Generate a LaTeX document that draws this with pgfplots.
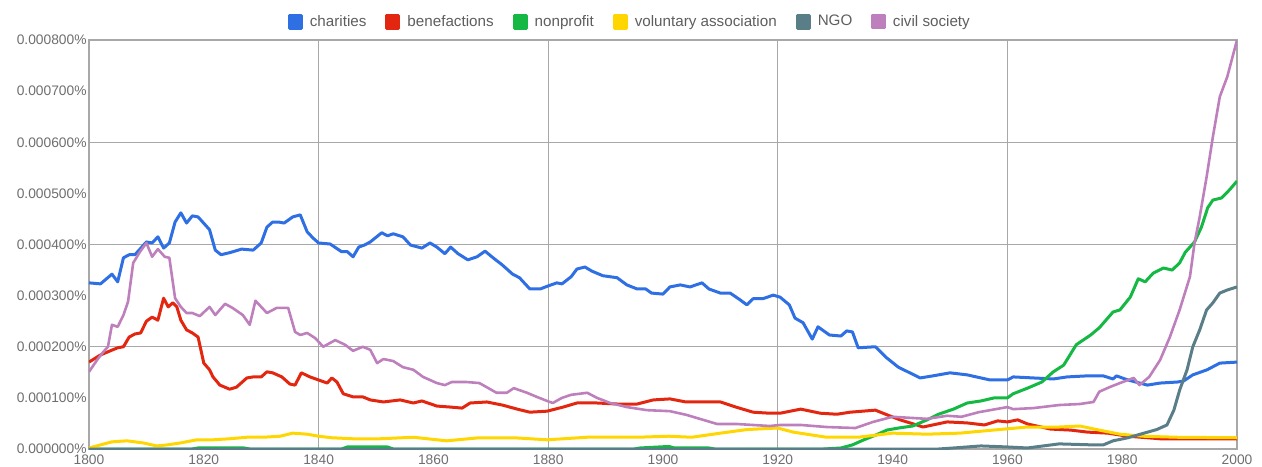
\documentclass[border=0pt]{standalone}
\usepackage{pgfplots}
\pgfplotsset{compat=1.18}
\usepackage{fontspec}
\setmainfont{Liberation Sans}
\definecolor{cchar}{HTML}{2F6FE4}
\definecolor{cbene}{HTML}{E3260F}
\definecolor{cnonp}{HTML}{14B843}
\definecolor{cvol}{HTML}{FFD600}
\definecolor{cngo}{HTML}{5A7E88}
\definecolor{civ}{HTML}{BE80BC}
\definecolor{ctxt}{HTML}{6E6E6E}
\definecolor{cleg}{HTML}{5E5E5E}
\definecolor{cgrid}{HTML}{A8A8A8}
\begin{document}
\begin{tikzpicture}
\begin{axis}[
  at={(0,0)}, anchor=south west,
  scale only axis, width=574pt, height=204.5pt,
  xmin=1800, xmax=2000, ymin=0, ymax=8,
  xtick={1800,1820,...,2000},
  xticklabels={1800,1820,1840,1860,1880,1900,1920,1940,1960,1980,2000},
  ytick={0,1,...,8},
  yticklabels={0.000000\%,0.000100\%,0.000200\%,0.000300\%,0.000400\%,0.000500\%,0.000600\%,0.000700\%,0.000800\%},
  major tick length=0pt,
  extra x ticks={1840,1880,1920,1960},
  extra x tick labels={},
  extra x tick style={grid=major, major tick length=0pt},
  extra y ticks={2,4,6},
  extra y tick labels={},
  extra y tick style={grid=major, major tick length=0pt},
  major grid style={draw=cgrid, line width=0.5pt},
  axis line style={draw=cgrid, line width=0.6pt},
  tick label style={font=\fontsize{6.9}{8}\selectfont, text=ctxt},
  yticklabel style={anchor=east, inner sep=1pt},
  xticklabel style={anchor=north, inner sep=2.5pt},
  legend columns=-1,
  legend style={at={(0.472,1.044)}, anchor=center, draw=none, fill=none,
    font=\fontsize{7.6}{9}\selectfont, text=cleg,
    /tikz/every odd column/.append style={column sep=1.5pt},
    /tikz/every even column/.append style={column sep=7.5pt}},
  legend image code/.code={\fill[#1] (0pt,-3pt) rectangle (6pt,3.5pt);},
  every axis plot/.append style={line width=1.5pt, line join=round},
]
\addplot[color=cchar] coordinates {(1800,3.25)(1802,3.23)(1804,3.42)(1805,3.27)(1806,3.74)(1807,3.80)(1808,3.80)(1810,4.05)(1811,4.03)(1812,4.15)(1813,3.93)(1814,4.03)(1815,4.44)(1816,4.62)(1817,4.42)(1818,4.56)(1819,4.54)(1821,4.29)(1822,3.89)(1823,3.80)(1824.5,3.84)(1826.6,3.91)(1828.6,3.89)(1830,4.03)(1831,4.34)(1832,4.44)(1833,4.44)(1834,4.42)(1835.5,4.54)(1836.8,4.58)(1838,4.25)(1839,4.13)(1840,4.03)(1842,4.01)(1844,3.86)(1845,3.86)(1846,3.76)(1847,3.95)(1848,3.99)(1849,4.05)(1851,4.23)(1852,4.17)(1853,4.21)(1854.7,4.15)(1856,3.99)(1858,3.93)(1859.4,4.03)(1860.6,3.95)(1862,3.82)(1863,3.95)(1864.3,3.82)(1866,3.70)(1867.6,3.76)(1869,3.87)(1870.4,3.74)(1872,3.60)(1873.8,3.42)(1875,3.35)(1876.8,3.13)(1878.6,3.13)(1880,3.19)(1881.5,3.25)(1882.4,3.23)(1884,3.37)(1885,3.52)(1886.4,3.56)(1887.6,3.48)(1889.5,3.39)(1892,3.35)(1893.7,3.21)(1895.5,3.13)(1897,3.13)(1898,3.05)(1900,3.03)(1901.2,3.17)(1903,3.21)(1904.7,3.17)(1906.8,3.25)(1908,3.13)(1910,3.05)(1911.7,3.05)(1913.4,2.92)(1914.6,2.82)(1915.7,2.94)(1917.4,2.94)(1919.2,3.01)(1920.4,2.97)(1922,2.82)(1923,2.56)(1924.4,2.47)(1926,2.15)(1927,2.39)(1929,2.23)(1931,2.21)(1932,2.31)(1933,2.29)(1934,1.98)(1937,2.00)(1939,1.78)(1941,1.60)(1943,1.49)(1944.8,1.39)(1947,1.43)(1950,1.49)(1953,1.45)(1957,1.35)(1960,1.35)(1961,1.41)(1964.5,1.39)(1968,1.37)(1970.4,1.41)(1973.8,1.43)(1976.7,1.43)(1978.4,1.37)(1979,1.43)(1981,1.35)(1984.4,1.25)(1986.6,1.29)(1989.6,1.31)(1990.7,1.33)(1992.3,1.45)(1994.8,1.55)(1997,1.68)(2000,1.70)};
\addlegendentry{charities}
\addplot[color=cbene] coordinates {(1800,1.70)(1802,1.84)(1803.7,1.92)(1805,1.98)(1806,2.00)(1807,2.19)(1808,2.25)(1809,2.27)(1810,2.50)(1811,2.58)(1812,2.52)(1813,2.95)(1813.8,2.78)(1814.6,2.86)(1815.3,2.78)(1816,2.52)(1817,2.33)(1818,2.27)(1819,2.19)(1820,1.68)(1821,1.55)(1821.6,1.41)(1822.8,1.25)(1824.5,1.17)(1825.7,1.21)(1827.5,1.39)(1828.6,1.41)(1830,1.41)(1831,1.51)(1832,1.49)(1833.6,1.41)(1835,1.27)(1835.9,1.25)(1837,1.49)(1838.5,1.41)(1840,1.35)(1841.5,1.29)(1842.3,1.39)(1843.2,1.31)(1844.3,1.08)(1846,1.02)(1847.7,1.02)(1849,0.96)(1851.3,0.92)(1854.2,0.96)(1856.5,0.90)(1858,0.94)(1860.6,0.84)(1863,0.82)(1865,0.80)(1866.4,0.90)(1869.3,0.92)(1872,0.86)(1874.6,0.78)(1876.8,0.72)(1879.8,0.74)(1882.6,0.82)(1885,0.90)(1888.5,0.90)(1892,0.88)(1895.5,0.88)(1898.3,0.96)(1901.2,0.98)(1904,0.92)(1907,0.92)(1910,0.92)(1912.7,0.82)(1915.7,0.72)(1918.6,0.70)(1920.4,0.70)(1924,0.78)(1927.4,0.70)(1930.3,0.68)(1932.6,0.72)(1937,0.76)(1939,0.67)(1941.3,0.57)(1944.2,0.47)(1945.3,0.43)(1949.5,0.53)(1953,0.51)(1956,0.47)(1958.3,0.55)(1960,0.53)(1961.8,0.57)(1963.5,0.49)(1967.5,0.39)(1971,0.37)(1974,0.33)(1977.5,0.31)(1981,0.25)(1984.4,0.22)(1986.6,0.20)(1992.3,0.20)(2000,0.20)};
\addlegendentry{benefactions}
\addplot[color=cnonp] coordinates {(1800,0)(1818,0)(1819,0.02)(1827,0.02)(1828,0)(1844,0)(1845,0.04)(1852,0.04)(1853,0)(1895,0)(1896,0.02)(1901,0.05)(1902,0.02)(1908,0.02)(1909,0)(1928,0)(1931,0.02)(1933,0.08)(1935,0.18)(1937,0.27)(1939,0.37)(1941,0.41)(1943.5,0.45)(1946,0.57)(1948,0.68)(1950.6,0.78)(1953,0.90)(1955.4,0.94)(1957.7,1.00)(1960,1.00)(1961,1.08)(1963.5,1.19)(1966,1.31)(1968,1.51)(1969.8,1.64)(1972,2.04)(1974.5,2.23)(1976,2.37)(1978.4,2.68)(1979.6,2.72)(1981.4,2.97)(1982.8,3.33)(1984,3.27)(1985.4,3.44)(1987.2,3.54)(1988.7,3.50)(1990,3.64)(1991,3.85)(1992.6,4.05)(1993.8,4.34)(1994.9,4.72)(1995.8,4.87)(1997.3,4.91)(1998.7,5.07)(2000,5.24)};
\addlegendentry{nonprofit}
\addplot[color=cvol] coordinates {(1800,0.02)(1802,0.08)(1804,0.14)(1806.6,0.16)(1809.4,0.12)(1811.8,0.06)(1813.6,0.08)(1816,0.12)(1818.8,0.18)(1821.6,0.18)(1824.5,0.20)(1827.5,0.23)(1830.3,0.23)(1833.3,0.25)(1835.5,0.31)(1838,0.29)(1840,0.25)(1842.3,0.22)(1846,0.20)(1850.7,0.20)(1856.5,0.23)(1862.3,0.16)(1868,0.22)(1874,0.22)(1879.8,0.18)(1886.8,0.23)(1895.5,0.23)(1901,0.25)(1905,0.23)(1910,0.31)(1914.6,0.38)(1918,0.40)(1920,0.41)(1922.7,0.33)(1928.5,0.23)(1934,0.23)(1940,0.31)(1946,0.29)(1951.7,0.31)(1957.5,0.37)(1963.5,0.43)(1969,0.43)(1972.6,0.45)(1976,0.37)(1979.6,0.29)(1983.6,0.25)(1989.5,0.23)(2000,0.22)};
\addlegendentry{voluntary association}
\addplot[color=cngo] coordinates {(1800,0)(1948,0)(1950.6,0.02)(1955.4,0.06)(1960,0.04)(1963.5,0.02)(1969,0.10)(1975,0.08)(1976.7,0.08)(1978.4,0.16)(1981,0.22)(1983.8,0.31)(1986,0.38)(1987.8,0.47)(1989,0.76)(1990,1.15)(1991.3,1.55)(1992.3,2.00)(1993.5,2.33)(1994.7,2.72)(1995.8,2.86)(1997,3.05)(1998.3,3.11)(2000,3.17)};
\addlegendentry{NGO}
\addplot[color=civ, line width=1.3pt] coordinates {(1800,1.51)(1801.4,1.74)(1802.5,1.90)(1803.3,2.00)(1804,2.43)(1805,2.39)(1806,2.62)(1806.8,2.88)(1807.7,3.64)(1808.9,3.86)(1810,4.03)(1811,3.76)(1812,3.91)(1813.2,3.76)(1814,3.74)(1815,2.95)(1816,2.78)(1817,2.66)(1818,2.66)(1819.3,2.60)(1821,2.78)(1822,2.62)(1823.7,2.84)(1825,2.76)(1826.8,2.62)(1828,2.43)(1829,2.90)(1831,2.66)(1832.7,2.76)(1834.7,2.76)(1835.9,2.29)(1836.8,2.23)(1838,2.27)(1839.4,2.17)(1840.8,2.00)(1842.9,2.13)(1844.6,2.04)(1846,1.92)(1847.7,2.00)(1849,1.94)(1850.2,1.68)(1851.3,1.76)(1853,1.72)(1854.7,1.60)(1856.5,1.55)(1858.2,1.41)(1860.6,1.29)(1862,1.25)(1863.2,1.31)(1865.8,1.31)(1868,1.29)(1871,1.10)(1872.8,1.10)(1874,1.19)(1876.3,1.10)(1878,1.02)(1879.8,0.94)(1880.8,0.90)(1882.4,1.00)(1884,1.06)(1886.8,1.10)(1888.5,1.00)(1890.8,0.90)(1893.7,0.82)(1897.2,0.76)(1901.2,0.74)(1904,0.67)(1907,0.57)(1909.4,0.49)(1912.7,0.49)(1918.6,0.45)(1920.4,0.47)(1924,0.47)(1928.5,0.43)(1933.5,0.41)(1936.6,0.53)(1940,0.63)(1943,0.61)(1946,0.59)(1949.5,0.65)(1952,0.63)(1955,0.72)(1958,0.78)(1960,0.82)(1961,0.78)(1964.5,0.80)(1969,0.86)(1972.6,0.88)(1975,0.92)(1976,1.12)(1977.8,1.21)(1979.6,1.29)(1982,1.39)(1983,1.25)(1984.7,1.41)(1986.6,1.74)(1988.3,2.19)(1990,2.72)(1991.8,3.37)(1992.6,4.03)(1993.5,4.54)(1994.7,5.32)(1995.8,6.11)(1997,6.89)(1998.3,7.28)(2000,8.00)};
\addlegendentry{civil society}
\end{axis}
\pgfresetboundingbox
\path (-44.5pt,-8.5pt) rectangle (586.5pt,224.5pt);
\end{tikzpicture}
\end{document}
